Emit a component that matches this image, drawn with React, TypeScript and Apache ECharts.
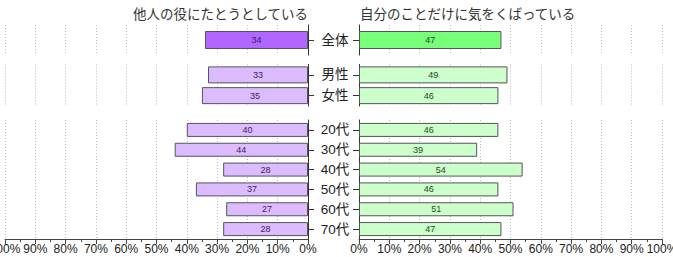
import React, { useEffect, useRef } from "react";
import * as echarts from "echarts";

const titleLeft = "他人の役にたとうとしている";
const titleRight = "自分のことだけに気をくばっている";

const catTotal = ["全体"];
const catGender = ["男性", "女性"];
const catAge = ["20代", "30代", "40代", "50代", "60代", "70代"];

const leftTotal = [34];
const leftGender = [33, 35];
const leftAge = [40, 44, 28, 37, 27, 28];

const rightTotal = [47];
const rightGender = [49, 46];
const rightAge = [46, 39, 54, 46, 51, 47];

const FONT = "'Liberation Sans', Arial, 'Noto Sans CJK JP', sans-serif";

export default function App() {
  const ref = useRef<HTMLDivElement>(null);
  useEffect(() => {
    document.body.style.margin = "0";
    if (!ref.current) return;
    const chart = echarts.init(ref.current, null, { renderer: "svg" });

    const rows = [
      { top: 25, height: 30, cats: catTotal, l: leftTotal, r: rightTotal, bw: 18, strong: true },
      { top: 64.5, height: 41.5, cats: catGender, l: leftGender, r: rightGender, bw: 17, strong: false },
      { top: 120, height: 119, cats: catAge, l: leftAge, r: rightAge, bw: 14, strong: false },
    ];

    const grids: any[] = [];
    const xAxes: any[] = [];
    const yAxes: any[] = [];
    const series: any[] = [];

    rows.forEach((row, i) => {
      const isBottom = i === rows.length - 1;
      for (let side = 0; side < 2; side++) {
        const idx = grids.length;
        const isLeft = side === 0;
        grids.push(
          isLeft
            ? { left: 5, width: 303, top: row.top, height: row.height, containLabel: false, outerBoundsMode: "none" }
            : { left: 359, width: 303, top: row.top, height: row.height, containLabel: false, outerBoundsMode: "none" }
        );
        xAxes.push({
          type: "value",
          gridIndex: idx,
          min: 0,
          max: 100,
          interval: 10,
          inverse: isLeft,
          position: "bottom",
          axisLine: { show: isBottom, onZero: false, lineStyle: { color: "#444", width: 1 } },
          axisTick: { show: isBottom, length: 5, lineStyle: { color: "#444" } },
          minorTick: { show: isBottom, splitNumber: 2, length: 3, lineStyle: { color: "#444" } },
          axisLabel: {
            show: isBottom,
            formatter: "{value}%",
            fontSize: 12,
            color: "#222",
            margin: 4,
            fontFamily: FONT,
            hideOverlap: false,
          },
          splitLine: { show: true, lineStyle: { color: "#bbb", type: [1, 2], width: 1 } },
        });
        yAxes.push({
          type: "category",
          gridIndex: idx,
          data: row.cats,
          inverse: true,
          position: isLeft ? "right" : "left",
          axisLine: { show: true, lineStyle: { color: "#333", width: 1 } },
          axisTick: { show: true, alignWithLabel: true, length: 6, lineStyle: { color: "#333" } },
          axisLabel: isLeft
            ? { show: false }
            : {
                show: true,
                align: "center",
                margin: 24,
                fontSize: 13.5,
                color: "#222",
                fontFamily: FONT,
              },
          splitLine: { show: false },
        });
        const base = isLeft
          ? row.strong
            ? "#b066ff"
            : "#dcbcff"
          : row.strong
          ? "#77ff7a"
          : "#ccffcc";
        series.push({
          type: "bar",
          xAxisIndex: idx,
          yAxisIndex: idx,
          data: isLeft ? row.l : row.r,
          barWidth: row.bw,
          itemStyle: { color: base, borderColor: "#555", borderWidth: 1 },
          label: {
            show: true,
            position: "inside",
            fontSize: 9,
            color: isLeft ? "#3a1d5c" : "#1d4a1d",
            fontFamily: FONT,
          },
        });
      }
    });

    chart.setOption({
      animation: false,
      grid: grids,
      xAxis: xAxes,
      yAxis: yAxes,
      series,
      graphic: [
        {
          type: "text",
          x: 308,
          y: 14,
          style: {
            text: titleLeft,
            textAlign: "right",
            textVerticalAlign: "middle",
            fontSize: 13.5,
            fill: "#333",
            fontFamily: FONT,
          },
        },
        {
          type: "text",
          x: 360,
          y: 14,
          style: {
            text: titleRight,
            textAlign: "left",
            textVerticalAlign: "middle",
            fontSize: 13.5,
            fill: "#333",
            fontFamily: FONT,
          },
        },
      ],
    });
    return () => chart.dispose();
  }, []);
  return <div ref={ref} style={{ width: 673, height: 257 }} />;
}
